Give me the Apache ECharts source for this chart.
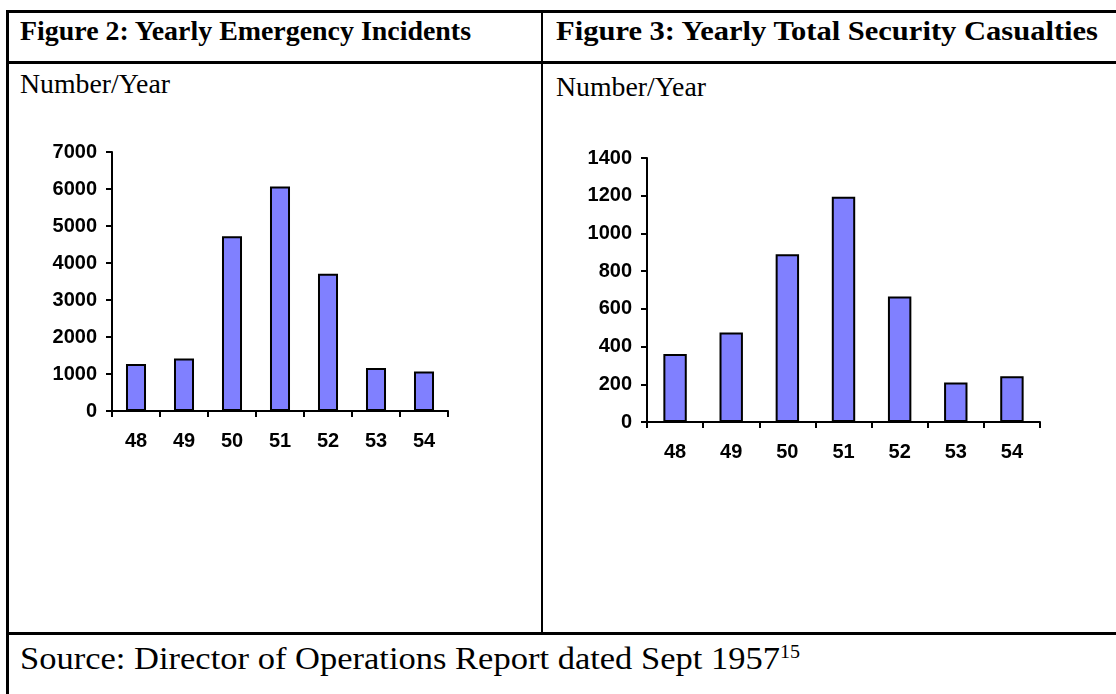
<!DOCTYPE html>
<html>
<head>
<meta charset="utf-8">
<script src="https://cdn.jsdelivr.net/npm/echarts@6/dist/echarts.min.js"></script>
<style>
  html, body { margin: 0; padding: 0; background: #fff; }
  #wrap { position: relative; width: 1116px; height: 694px; overflow: hidden; background: #fff; }
  .ln { position: absolute; background: #000; }
  .tx { position: absolute; white-space: nowrap; color: #000; font-family: "Liberation Serif", "Times New Roman", serif; line-height: normal; transform-origin: 0 0; }
  .b { font-weight: bold; }
  #chart { position: absolute; left: 0; top: 0; width: 1116px; height: 694px; }
  sup { font-size: 58%; vertical-align: 0; position: relative; top: -0.6em; }
</style>
</head>
<body>
<div id="wrap">
  <div class="ln" style="left:6px;top:10px;width:1120px;height:3px"></div>
  <div class="ln" style="left:6px;top:10px;width:3px;height:700px"></div>
  <div class="ln" style="left:6px;top:61px;width:1120px;height:3px"></div>
  <div class="ln" style="left:541px;top:10px;width:2px;height:624px"></div>
  <div class="ln" style="left:6px;top:632px;width:1120px;height:3px"></div>

  <div class="tx b" data-w="451" data-base="40" style="left:20px;font-size:27.5px">Figure 2: Yearly Emergency Incidents</div>
  <div class="tx b" data-w="542" data-base="40" style="left:556px;font-size:27.5px">Figure 3: Yearly Total Security Casualties</div>
  <div class="tx" data-w="150" data-base="93" style="left:20px;font-size:27px">Number/Year</div>
  <div class="tx" data-w="150" data-base="96" style="left:556px;font-size:27px">Number/Year</div>
  <div class="tx" data-w="780" data-base="669" style="left:20px;font-size:32px">Source: Director of Operations Report dated Sept 1957<sup>15</sup></div>

  <div id="chart"></div>
</div>
<script>
// ---- data ----
var categories = ['48', '49', '50', '51', '52', '53', '54'];
var incidents = [1270, 1420, 4720, 6070, 3710, 1160, 1070];
var casualties = [360, 475, 890, 1195, 665, 210, 243];
var incidentAxis = { min: 0, max: 7000, interval: 1000 };
var casualtyAxis = { min: 0, max: 1400, interval: 200 };

// place HTML texts on their baselines and fit them to the widths seen in the reference
document.querySelectorAll('.tx').forEach(function (el) {
  var fs = parseFloat(el.style.fontSize);
  el.style.top = (parseFloat(el.getAttribute('data-base')) - 0.891 * fs) + 'px';
  var w = el.getBoundingClientRect().width;
  var target = parseFloat(el.getAttribute('data-w'));
  el.style.transform = 'scaleX(' + (target / w) + ')';
});

var labelFont = { fontFamily: '"Liberation Sans", Arial, sans-serif', fontWeight: 'bold', fontSize: 20, color: '#000' };
var lineStyle = { color: '#000', width: 2 };
function plain(v) { return String(v); }

function xAxis(gridIndex) {
  return {
    type: 'category', gridIndex: gridIndex, data: categories, boundaryGap: true,
    axisLine: { show: true, lineStyle: lineStyle },
    axisTick: { show: true, length: 6, inside: false, lineStyle: lineStyle },
    axisLabel: Object.assign({ margin: 20, interval: 0 }, labelFont),
    splitLine: { show: false }
  };
}
function yAxis(gridIndex, ax) {
  return {
    type: 'value', gridIndex: gridIndex, min: ax.min, max: ax.max, interval: ax.interval,
    axisLine: { show: true, lineStyle: lineStyle },
    axisTick: { show: true, length: 6, inside: false, lineStyle: lineStyle },
    axisLabel: Object.assign({ margin: 15, formatter: plain }, labelFont),
    splitLine: { show: false }
  };
}
var barStyle = { color: '#8080ff', borderColor: '#000', borderWidth: 2 };

var chart = echarts.init(document.getElementById('chart'), null, { renderer: 'canvas' });
chart.setOption({
  backgroundColor: 'transparent',
  animation: false,
  grid: [
    { left: 112, top: 152, width: 336, height: 259 },
    { left: 647, top: 158, width: 393, height: 264 }
  ],
  xAxis: [xAxis(0), xAxis(1)],
  yAxis: [yAxis(0, incidentAxis), yAxis(1, casualtyAxis)],
  series: [
    { type: 'bar', xAxisIndex: 0, yAxisIndex: 0, data: incidents, barWidth: '41.7%', itemStyle: barStyle },
    { type: 'bar', xAxisIndex: 1, yAxisIndex: 1, data: casualties, barWidth: '41.7%', itemStyle: barStyle }
  ]
});
</script>
</body>
</html>
